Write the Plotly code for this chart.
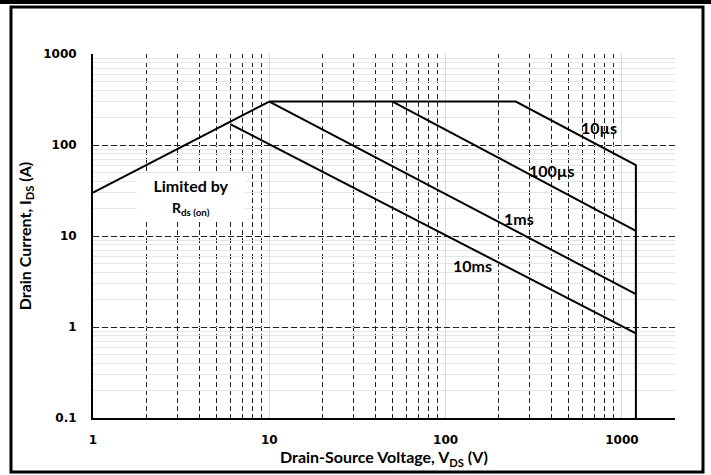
import math
import plotly.graph_objects as go

# Safe operating area
rds_v = [1, 10]
rds_i = [30, 300]

v_10us = [10, 250, 1200, 1200]
i_10us = [300, 300, 60, 0.1]

v_100us = [50, 1200]
i_100us = [300, 11.4]

v_1ms = [10, 1200]
i_1ms = [300, 2.3]

v_10ms = [6, 1200]
i_10ms = [170, 0.85]

curve_labels = ["10µs", "100µs", "1ms", "10ms"]
label_v = [740, 400, 262, 142]
label_i = [154, 53, 15.4, 4.7]

x_ticks = [1, 10, 100, 1000]
y_ticks = [0.1, 1, 10, 100, 1000]

W, H = 711, 475
L, R, T, B = 93, 36, 54, 57
pw, ph = W - L - R, H - T - B


def px(x):
    return (x - L) / pw


def py(y):
    return (H - B - y) / ph


fig = go.Figure()
for xs, ys in [(rds_v, rds_i), (v_10us, i_10us), (v_100us, i_100us),
               (v_1ms, i_1ms), (v_10ms, i_10ms)]:
    fig.add_trace(go.Scatter(x=xs, y=ys, mode="lines",
                             line=dict(color="black", width=2),
                             showlegend=False, hoverinfo="skip"))

# annotations on log axes take log10 positions
label_font = dict(family="Lato", size=16, color="black", weight="bold")
for t, xv, yv in zip(curve_labels, label_v, label_i):
    fig.add_annotation(x=math.log10(xv), y=math.log10(yv), xref="x", yref="y", text=t,
                       showarrow=False, font=label_font,
                       xanchor="center", yanchor="middle")

fig.add_annotation(x=math.log10(3.6), y=math.log10(27), xref="x", yref="y",
                   text="Limited by<br><span style='font-size:14px'>R<sub>ds (on)</sub></span>",
                   showarrow=False, font=dict(family="Lato", size=16, color="black", weight="bold"),
                   bgcolor="white", borderpad=3, width=102, height=40, align="center")

tick_font = dict(family="DejaVu Sans", size=12, color="black", weight="bold")
title_font = dict(family="Lato", size=16, color="black", weight="bold")

fig.update_xaxes(
    type="log", range=[0, 3.30103], automargin=False,
    tickvals=x_ticks, ticktext=[str(v) for v in x_ticks],
    tickfont=tick_font, ticks="outside", ticklen=10, tickcolor="rgba(0,0,0,0)",
    showgrid=True, gridcolor="#dcdcdc", gridwidth=1, griddash="solid",
    minor=dict(dtick="D1", showgrid=True, gridcolor="#222", griddash="5px,3px", gridwidth=1),
    showline=True, linecolor="black", linewidth=2, zeroline=False,
    title=dict(text="Drain-Source Voltage, V<sub>DS</sub> (V)", font=title_font, standoff=2),
)
fig.update_yaxes(
    type="log", range=[-1, 3], automargin=False,
    tickvals=y_ticks, ticktext=[str(v) for v in y_ticks],
    tickfont=tick_font, ticks="outside", ticklen=12, tickcolor="rgba(0,0,0,0)",
    showgrid=True, gridcolor="#222", griddash="6px,3px", gridwidth=1,
    minor=dict(dtick="D1", showgrid=True, gridcolor="#e6e6e6", gridwidth=1, griddash="solid"),
    showline=True, linecolor="black", linewidth=2, zeroline=False,
    title=dict(text="Drain Current, I<sub>DS</sub> (A)", font=title_font, standoff=8),
)

# outer frame of the figure
fig.add_shape(type="rect", xref="paper", yref="paper",
              x0=px(11), x1=px(703), y0=py(472), y1=py(7),
              line=dict(color="black", width=3), layer="below")
fig.add_shape(type="rect", xref="paper", yref="paper",
              x0=px(0), x1=px(711), y0=py(4), y1=py(0),
              line=dict(width=0), fillcolor="black", layer="below")

fig.update_layout(
    width=W, height=H,
    margin=dict(l=L, r=R, t=T, b=B, autoexpand=False),
    plot_bgcolor="white", paper_bgcolor="white",
    showlegend=False,
)

fig.write_html("out.html", config={"displayModeBar": False},
               post_script="document.body.style.margin='0';")
